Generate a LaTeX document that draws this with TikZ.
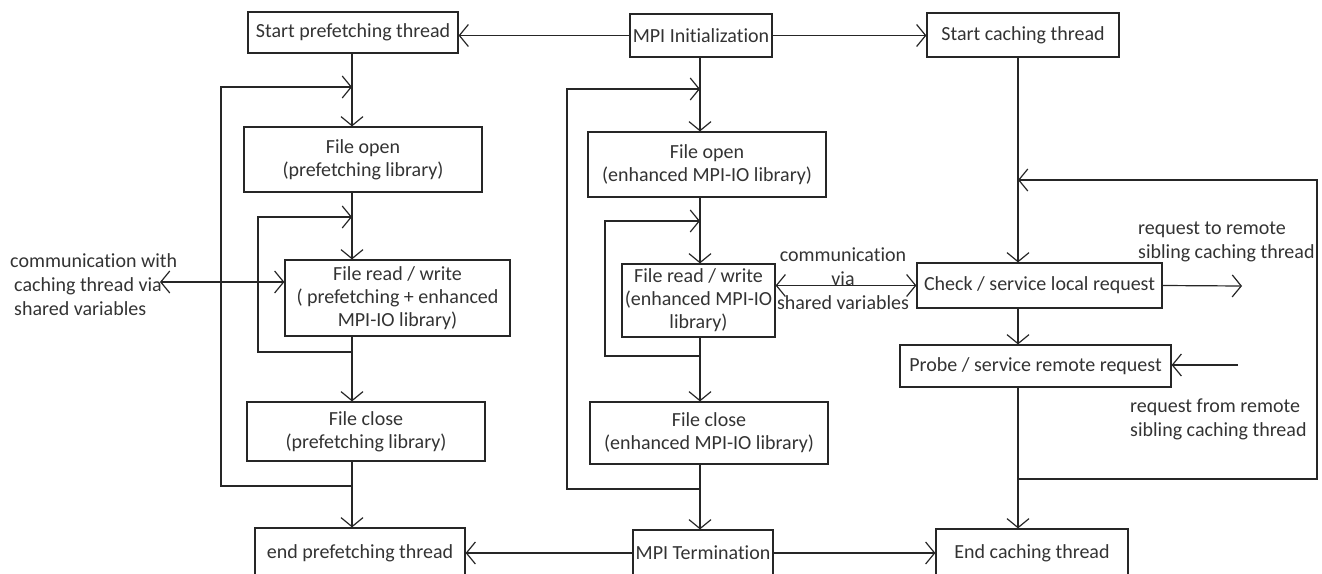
\documentclass[tikz,border=0pt]{standalone}
\usepackage{fontspec}
\setmainfont{Carlito}[Ligatures=NoCommon]
\usetikzlibrary{arrows.meta}
\begin{document}
\begin{tikzpicture}[x=1pt,y=-1pt,
  box/.style={draw=black!85, line width=1.2pt, inner sep=0pt, align=center,
    font=\fontsize{20}{23}\selectfont, text=black!80},
  lbl/.style={inner sep=0pt, font=\fontsize{20}{24}\selectfont, text=black!80},
  ln/.style={line width=1.2pt, draw=black!85},
  barb/.tip={Straight Barb[length=9pt,width=22pt,line width=1.2pt]},
  arr/.style={ln, -barb},
  darr/.style={ln, barb-barb}
]
\useasboundingbox (0,0) rectangle (1322,573);
\clip (0,0) rectangle (1322,573);

% top row
\node[box, minimum width=210, minimum height=41] (spf) at (353,32.5) {Start prefetching thread};
\node[box, minimum width=142, minimum height=43] (mpii) at (701,35.5) {MPI Initialization};
\node[box, minimum width=192, minimum height=44] (sct) at (1023,35) {Start caching thread};

% left column
\node[box, minimum width=238, minimum height=65] (fo1) at (363,159.5) {File open\\(prefetching library)};
\node[box, minimum width=225, minimum height=76] (frw1) at (397.5,298) {File read / write\\( prefetching + enhanced\\MPI-IO library)};
\node[box, minimum width=238, minimum height=59] (fc1) at (366,431.5) {File close\\(prefetching library)};
\node[box, minimum width=210, minimum height=50] (epf) at (360,553) {end prefetching thread};

% center column
\node[box, minimum width=238, minimum height=65] (fo2) at (707,164.5) {File open\\(enhanced MPI-IO library)};
\node[box, minimum width=153, minimum height=73] (frw2) at (698.5,300.5) {File read / write\\(enhanced MPI-IO\\library)};
\node[box, minimum width=238, minimum height=62] (fc2) at (709,433) {File close\\(enhanced MPI-IO library)};
\node[box, minimum width=140, minimum height=46] (mpit) at (703,553) {MPI Termination};

% right column
\node[box, minimum width=245, minimum height=45] (chk) at (1039.5,285.5) {Check / service local request};
\node[box, minimum width=271, minimum height=42] (prb) at (1035.5,366) {Probe / service remote request};
\node[box, minimum width=192, minimum height=49] (ect) at (1032,553.5) {End caching thread};

% labels
\node[lbl, align=left, anchor=west] (lcom) at (10,285) {communication with\\\hspace*{4pt}caching thread via\\\hspace*{4pt}shared variables};
\node[lbl, align=center] (ccom) at (843,279) {communication\\via\\shared variables};
\node[lbl, align=left, anchor=west] (rto) at (1138,242) {request to remote\\sibling caching thread};
\node[lbl, align=left, anchor=west] (rfrom) at (1130,419) {request from remote\\sibling caching thread};

% axis coordinates
\coordinate (Lx) at (352,0);
\coordinate (Cx) at (700,0);
\coordinate (Rx) at (1018,0);

% top horizontal arrows
\draw[arr] (mpii.west) -- (mpii.west -| spf.east);
\draw[arr] (mpii.east) -- (mpii.east -| sct.west);

% left column flow
\coordinate (lo1) at (221,87);
\coordinate (lo2) at (221,486);
\coordinate (li1) at (258,217);
\coordinate (li2) at (258,352);
\draw[arr] (spf.south -| Lx) -- (fo1.north -| Lx);
\draw[arr] (fo1.south -| Lx) -- (frw1.north -| Lx);
\draw[arr] (frw1.south -| Lx) -- (fc1.north -| Lx);
\draw[arr] (fc1.south -| Lx) -- (epf.north -| Lx);
\draw[arr] (lo2 -| Lx) -- (lo2) -- (lo1) -- (lo1 -| Lx);
\draw[arr] (li2 -| Lx) -- (li2) -- (li1) -- (li1 -| Lx);

% center column flow
\coordinate (co1) at (567,89);
\coordinate (co2) at (567,489);
\coordinate (ci1) at (605,221);
\coordinate (ci2) at (605,356);
\draw[arr] (mpii.south -| Cx) -- (fo2.north -| Cx);
\draw[arr] (fo2.south -| Cx) -- (frw2.north -| Cx);
\draw[arr] (frw2.south -| Cx) -- (fc2.north -| Cx);
\draw[arr] (fc2.south -| Cx) -- (mpit.north -| Cx);
\draw[arr] (co2 -| Cx) -- (co2) -- (co1) -- (co1 -| Cx);
\draw[arr] (ci2 -| Cx) -- (ci2) -- (ci1) -- (ci1 -| Cx);

% bottom horizontal arrows
\draw[arr] (mpit.west) -- (mpit.west -| epf.east);
\draw[arr] (mpit.east) -- (mpit.east -| ect.west);

% right column flow
\coordinate (ro1) at (1317,180);
\coordinate (ro2) at (1317,479);
\draw[arr] (sct.south -| Rx) -- (chk.north -| Rx);
\draw[arr] (chk.south -| Rx) -- (prb.north -| Rx);
\draw[arr] (prb.south -| Rx) -- (ect.north -| Rx);
\draw[arr] (ro2 -| Rx) -- (ro2) -- (ro1) -- (ro1 -| Rx);
\coordinate (rout) at (1242,286);
\coordinate (rin) at (1238,365);
\draw[arr] (chk.east) -- (rout);
\draw[arr] (rin) -- (rin -| prb.east);

% shared variable communication
\coordinate (lcl) at (160,282);
\draw[darr] (lcl) -- (lcl -| frw1.west);
\draw[darr] (chk.west -| frw2.east) -- (chk.west);
\end{tikzpicture}
\end{document}
